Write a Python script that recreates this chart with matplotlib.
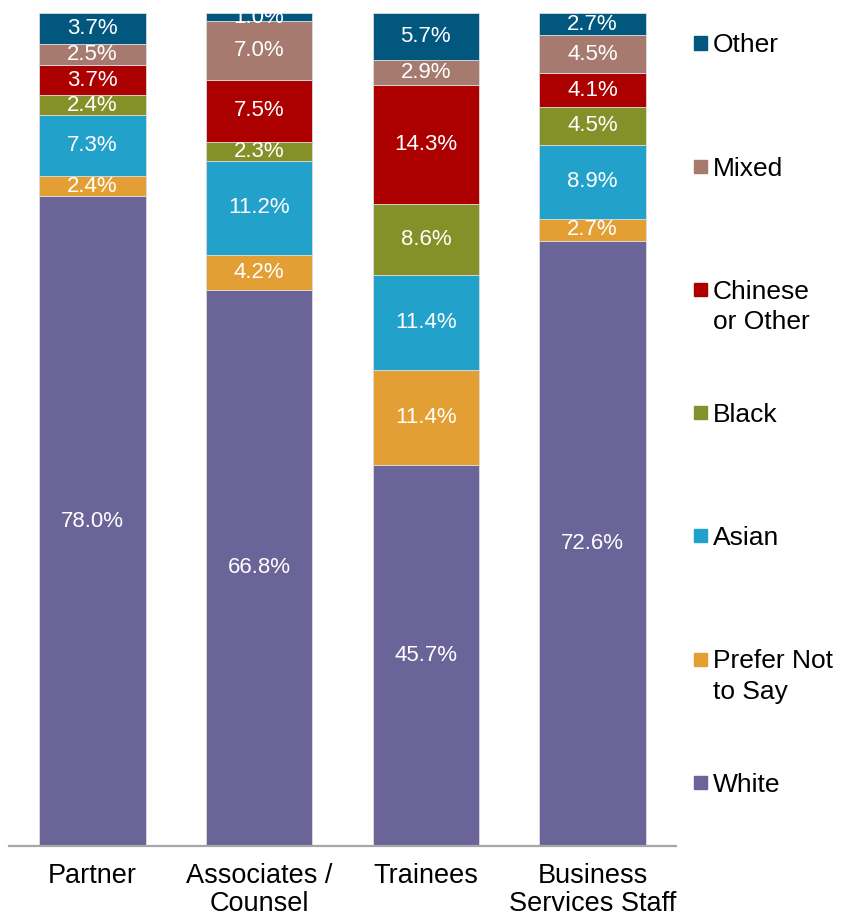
import numpy as np
import matplotlib
matplotlib.use("Agg")
from matplotlib import pyplot as plt
from matplotlib.patches import Rectangle

plt.rcParams['font.family'] = ['Liberation Sans', 'DejaVu Sans']

# Groups along the x axis
groups = ['Partner', 'Associates /\nCounsel', 'Trainees', 'Business\nServices Staff']

# Segments stacked from the bottom up
ethnicities = ['White', 'Prefer Not\nto Say', 'Asian', 'Black',
               'Chinese\nor Other', 'Mixed', 'Other']
colors = ['#6A6498', '#E39F33', '#22A1CB', '#849129',
          '#AC0000', '#A67A6F', '#02577F']

# Percentages per group, same order as ethnicities
white = [78.0, 66.8, 45.7, 72.6]
prefer_not = [2.4, 4.2, 11.4, 2.7]
asian = [7.3, 11.2, 11.4, 8.9]
black = [2.4, 2.3, 8.6, 4.5]
chinese_other = [3.7, 7.5, 14.3, 4.1]
mixed = [2.5, 7.0, 2.9, 4.5]
other = [3.7, 1.0, 5.7, 2.7]

series = [white, prefer_not, asian, black, chinese_other, mixed, other]

W, H = 854, 919
fig = plt.figure(figsize=(W / 100, H / 100), dpi=100)
ax = fig.add_axes([9 / W, 1 - 846 / H, (676 - 9) / W, (846 - 13) / H])

x = np.arange(len(groups))
bottom = np.zeros(len(groups))
for vals, col in zip(series, colors):
    vals = np.array(vals)
    ax.bar(x, vals, width=0.64, bottom=bottom, color=col,
           edgecolor='#dcdcdc', linewidth=0.6, zorder=2)
    for xi, b, v in zip(x, bottom, vals):
        t = ax.text(xi, b + v / 2, f'{v:.1f}%', ha='center', va='center',
                    color='white', fontsize=16, zorder=3)
        t.set_clip_on(True)
    bottom += vals

ax.set_xlim(-0.5, 3.5)
ax.set_ylim(0, 100)
ax.set_yticks([])
ax.set_xticks(x)
ax.set_xticklabels(groups, fontsize=19.5, linespacing=1.1)
ax.tick_params(axis='x', length=0, pad=12)
for s in ['top', 'right', 'left']:
    ax.spines[s].set_visible(False)
ax.spines['bottom'].set_color('#a6a6a6')
ax.spines['bottom'].set_linewidth(1.6)

# legend drawn by hand, top entry first
y0, step, line_h = 43, 123.2, 30
for i, (name, col) in enumerate(zip(ethnicities[::-1], colors[::-1])):
    yc = y0 + i * step
    fig.add_artist(Rectangle((694 / W, 1 - (yc + 6.5) / H), 13 / W, 13 / H,
                             transform=fig.transFigure, color=col))
    for k, line in enumerate(name.split('\n')):
        fig.text(713 / W, 1 - (yc + 9.5 + k * line_h) / H, line, fontsize=19,
                 va='baseline', ha='left')

fig.savefig('out.png', dpi=100)
